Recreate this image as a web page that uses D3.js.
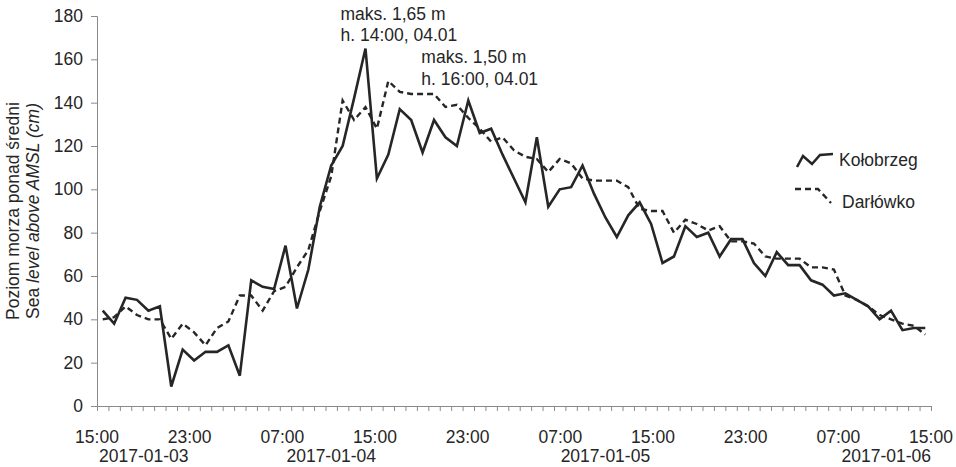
<!DOCTYPE html>
<html>
<head>
<meta charset="utf-8">
<script src="https://cdn.jsdelivr.net/npm/d3@7"></script>
<style>
  body { margin: 0; background: #fff; }
  svg { display: block; }
  text { font-family: "Liberation Sans", Arial, sans-serif; fill: #262626; }
</style>
</head>
<body>
<svg id="chart" width="956" height="467"></svg>
<script>
// Hourly sea level above mean (cm), 2017-01-03 15:00 .. 2017-01-06 15:00
const kolobrzeg = [44, 38, 50, 49, 44, 46, 9, 26, 21, 25, 25, 28, 14, 58, 55, 54, 74, 45, 63, 92,
  111, 120, 142, 165, 105, 116, 137, 132, 117, 132, 124, 120, 141, 126, 128, 116, 105, 94, 124, 92,
  100, 101, 111, 98, 87, 78, 88, 94, 84, 66, 69, 83, 78, 80, 69, 77, 77, 66, 60, 71,
  65, 65, 58, 56, 51, 52, 49, 46, 40, 44, 35, 36, 36];
const darlowko = [40, 41, 46, 42, 40, 40, 31, 38, 34, 28, 36, 39, 51, 51, 44, 53, 55, 64, 72, 90,
  106, 141, 132, 138, 128, 150, 145, 144, 144, 144, 138, 139, 133, 128, 122, 124, 118, 115, 114, 108,
  114, 112, 105, 104, 104, 104, 101, 91, 90, 90, 80, 86, 84, 81, 83, 76, 76, 75, 69, 68,
  68, 68, 64, 64, 63, 51, 49, 46, 42, 40, 38, 37, 33];
const firstDay = 3;   // January 3rd
const firstHour = 15; // 15:00

const hourLabels = ["15:00", "23:00", "07:00", "15:00", "23:00", "07:00", "15:00", "23:00", "07:00", "15:00"];
const dateLabels = ["2017-01-03", "2017-01-04", "2017-01-05", "2017-01-06"];
const yTicks = [0, 20, 40, 60, 80, 100, 120, 140, 160, 180];

const seriesNames = ["Kołobrzeg", "Darłówko"];

const svg = d3.select("#chart");
const nCat = kolobrzeg.length;          // one category per hour
const axisColor = "#8a8a8a";
const lineColor = "#262626";
const fontSize = 17.5;

const x = d3.scaleLinear().domain([0, nCat]).range([97, 931]);
const y = d3.scaleLinear().domain([0, 180]).range([406, 16]);
const cx = i => x(i + 0.5);           // points sit in the middle of their hour slot

// ---- y axis
const gy = svg.append("g").attr("transform", `translate(${x(0)},0)`)
  .call(d3.axisLeft(y).tickValues(yTicks).tickSize(6).tickPadding(8).tickFormat(d3.format("d")));
gy.select(".domain").attr("stroke", axisColor);
gy.selectAll(".tick line").attr("stroke", axisColor);
gy.selectAll(".tick text").attr("font-size", fontSize).attr("font-family", null).attr("fill", "#262626");

// ---- x axis: one tick per hour boundary
const gx = svg.append("g").attr("transform", `translate(0,${y(0)})`)
  .call(d3.axisBottom(x).tickValues(d3.range(nCat + 1)).tickSize(5).tickFormat(""));
gx.select(".domain").attr("stroke", axisColor);
gx.selectAll(".tick line").attr("stroke", axisColor);

// hour labels spread along the axis
const hourPos = d3.scalePoint().domain(d3.range(hourLabels.length)).range([x(0), x(nCat)]);
svg.append("g").selectAll("text").data(hourLabels).join("text")
  .attr("x", (d, i) => hourPos(i))
  .attr("y", 443)
  .attr("text-anchor", "middle")
  .attr("font-size", fontSize)
  .text(d => d);

// date labels: first and last pinned to the axis ends, middle ones centred on their day
const dateSpec = dateLabels.map((t, d) => {
  if (d === 0) return { t, pos: x(0) + 2, anchor: "start" };
  if (d === dateLabels.length - 1) return { t, pos: x(nCat), anchor: "end" };
  const a = 24 * d - firstHour;
  const b = Math.min(nCat, a + 24);
  return { t, pos: x((a + b) / 2 - 0.5), anchor: "middle" };
});
svg.append("g").selectAll("text").data(dateSpec).join("text")
  .attr("x", d => d.pos)
  .attr("y", 462)
  .attr("text-anchor", d => d.anchor)
  .attr("font-size", fontSize)
  .text(d => d.t);

// ---- y axis title
const title = svg.append("text")
  .attr("transform", `translate(19,${(y(0) + y(180)) / 2}) rotate(-90)`)
  .attr("text-anchor", "middle")
  .attr("font-size", fontSize);
title.append("tspan").attr("x", 0).attr("dy", 0).text("Poziom morza ponad średni");
const t2 = title.append("tspan").attr("x", 0).attr("dy", 20);
t2.append("tspan").text("Sea ");
t2.append("tspan").attr("font-style", "italic").text("level above AMSL (cm)");

// ---- series
const line = d3.line().x((d, i) => cx(i)).y(d => y(d));
svg.append("path").datum(darlowko)
  .attr("fill", "none").attr("stroke", lineColor).attr("stroke-width", 2.4)
  .attr("stroke-dasharray", "6,4").attr("stroke-linejoin", "miter")
  .attr("d", line);
svg.append("path").datum(kolobrzeg)
  .attr("fill", "none").attr("stroke", lineColor).attr("stroke-width", 2.6)
  .attr("stroke-linejoin", "miter")
  .attr("d", line);

// ---- maxima annotations
const fmtM = v => (v / 100).toFixed(2).replace(".", ",") + " m";
const fmtWhen = i => {
  const h = firstHour + i;
  const day = firstDay + Math.floor(h / 24);
  return `h. ${String(h % 24).padStart(2, "0")}:00, ${String(day).padStart(2, "0")}.01`;
};
const maxInfo = [kolobrzeg, darlowko].map(s => {
  const i = d3.maxIndex(s);
  return { i, v: s[i] };
});
const annOffsets = [{ dx: -25, dy: -29 }, { dx: 33, dy: -18 }];
maxInfo.forEach((m, k) => {
  const g = svg.append("text")
    .attr("x", cx(m.i) + annOffsets[k].dx)
    .attr("y", y(m.v) + annOffsets[k].dy)
    .attr("font-size", fontSize);
  g.append("tspan").attr("x", cx(m.i) + annOffsets[k].dx).text("maks. " + fmtM(m.v));
  g.append("tspan").attr("x", cx(m.i) + annOffsets[k].dx).attr("dy", 21.5).text(fmtWhen(m.i));
});

// ---- legend
const legend = svg.append("g").attr("transform", "translate(795,0)");
const kGlyph = [[2, 167], [8, 156], [17, 164], [25, 155], [38, 154]];
const dGlyph = [[0, 189], [23, 189], [36, 203]];
legend.append("path").attr("d", d3.line()(kGlyph))
  .attr("fill", "none").attr("stroke", lineColor).attr("stroke-width", 2.6);
legend.append("path").attr("d", d3.line()(dGlyph))
  .attr("fill", "none").attr("stroke", lineColor).attr("stroke-width", 2.4).attr("stroke-dasharray", "6,4");
legend.append("text").attr("x", 44).attr("y", 166).attr("font-size", fontSize).text(seriesNames[0]);
legend.append("text").attr("x", 47).attr("y", 208).attr("font-size", fontSize).text(seriesNames[1]);
</script>
</body>
</html>
